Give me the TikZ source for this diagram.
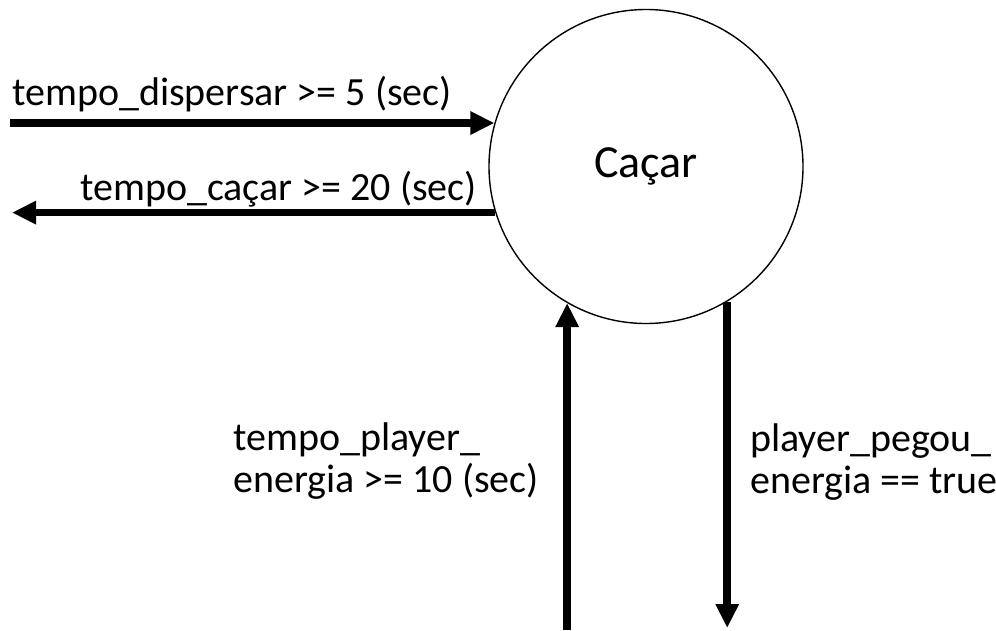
\documentclass[tikz,border=0pt]{standalone}
\usepackage{fontspec}
\setmainfont{Carlito}
\usetikzlibrary{arrows.meta}
\begin{document}
\begin{tikzpicture}[x=1pt,y=-1pt,
  lbl/.style={inner sep=0pt, font=\fontsize{40}{42}\selectfont, align=left},
  arr/.style={line width=7.5pt, -{Triangle[length=24pt,width=22pt]}},
  state/.style={circle, draw, line width=1.4pt, minimum size=314pt, inner sep=0pt, font=\fontsize{46}{50}\selectfont}]
\useasboundingbox (0,0) rectangle (996,630);
\node[state] (c) at (646,166.5) {Caçar};
\coordinate (l1) at (10,0);
\coordinate (l2) at (12,0);
\coordinate (b1) at (0,630);
\coordinate (b2) at (0,628);
\draw[arr] (l1 |- c.164) -- (c.164);
\draw[arr] (c.197) -- (l2 |- c.197);
\draw[arr] (c.240.6 |- b1) -- (c.240.6);
\draw[arr] (c.301.1) -- (c.301.1 |- b2);
\node[lbl, anchor=base west] (t1) at (12,105) {tempo\_dispersar >= 5 (sec)};
\node[lbl, anchor=base east] (t2) at (477,200) {tempo\_caçar >= 20 (sec)};
\node[lbl, anchor=base west] (t3) at (233,492) {tempo\_player\_\\energia >= 10 (sec)};
\node[lbl, anchor=base west] (t4) at (750,493) {player\_pegou\_\\energia == true};
\end{tikzpicture}
\end{document}
